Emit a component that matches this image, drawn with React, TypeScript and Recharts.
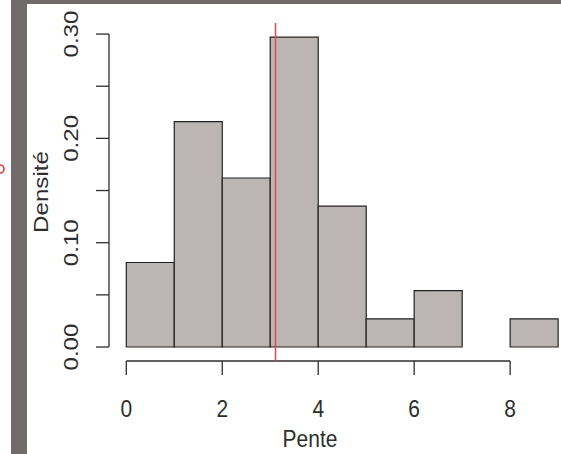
import React from 'react';
import { ComposedChart, Bar, XAxis, YAxis, ReferenceLine, Label } from 'recharts';

const binStarts = [0, 1, 2, 3, 4, 5, 6, 7, 8];
const densities = [0.081, 0.216, 0.162, 0.297, 0.135, 0.027, 0.054, 0, 0.027];
const xTicks = [0, 2, 4, 6, 8];
const yTicks = [0, 0.05, 0.1, 0.15, 0.2, 0.25, 0.3];
const yLabelTicks = [0, 0.1, 0.2, 0.3];
const meanValue = 3.11;
const xLabel = 'Pente';
const yLabel = 'Densité';

const xDomain: [number, number] = [-0.36, 9.06];
const yDomain: [number, number] = [-0.0134, 0.3106];

const data = binStarts.map((s, i) => ({ mid: s + 0.5, density: densities[i] }));

const FONT = '"Liberation Sans", Arial, Helvetica, sans-serif';
const INK = '#2e2e2e';

const XTick = (props: any) => {
  const { x, y, payload } = props;
  return (
    <g>
      <line x1={x} x2={x} y1={y} y2={y + 14} stroke={INK} strokeWidth={1.3} />
      <text
        transform={`translate(${x},${y + 56}) scale(1,1.15)`}
        x={0}
        y={0}
        textAnchor="middle"
        fontSize={21}
        fontFamily={FONT}
        fill={INK}
      >
        {payload.value}
      </text>
    </g>
  );
};

const YTick = (props: any) => {
  const { x, y, payload } = props;
  const v = payload.value;
  const show = yLabelTicks.some((t) => Math.abs(t - v) < 1e-9);
  return (
    <g>
      <line x1={x - 13} x2={x} y1={y} y2={y} stroke={INK} strokeWidth={1.3} />
      {show && (
        <text
          transform={`translate(${x - 31},${y}) rotate(-90) scale(1.15,1)`}
          x={0}
          y={0}
          textAnchor="middle"
          fontSize={21}
          fontFamily={FONT}
          fill={INK}
        >
          {v.toFixed(2)}
        </text>
      )}
    </g>
  );
};

const XLabelContent = (props: any) => {
  const { viewBox } = props;
  const cx = viewBox.x + viewBox.width / 2 - 25;
  const by = viewBox.y + 86;
  return (
    <text
      transform={`translate(${cx},${by}) scale(1,1.12)`}
      x={0}
      y={0}
      textAnchor="middle"
      fontSize={21}
      fontFamily={FONT}
      fill={INK}
    >
      {xLabel}
    </text>
  );
};

const YLabelContent = (props: any) => {
  const { viewBox } = props;
  const cy = viewBox.y + viewBox.height / 2;
  const bx = 48;
  return (
    <text
      transform={`translate(${bx},${cy}) rotate(-90) scale(1.15,1)`}
      x={0}
      y={0}
      textAnchor="middle"
      fontSize={21}
      fontFamily={FONT}
      fill={INK}
    >
      {yLabel}
    </text>
  );
};

export default function App() {
  return (
    <div style={{ position: 'absolute', left: 0, top: 0, width: 561, height: 454, background: '#fff', overflow: 'hidden' }}>
      <div style={{ position: 'absolute', left: 11, top: 0, width: 16, height: 454, background: '#6f6b6a' }} />
      <div style={{ position: 'absolute', left: 11, top: 0, width: 550, height: 4, background: '#6f6b6a' }} />
      <svg style={{ position: 'absolute', left: 0, top: 162 }} width={10} height={20}>
        <path d="M 0 3 A 4 4 0 0 1 4 7 A 4 4 0 0 1 0 11" fill="none" stroke="#e03a3a" strokeWidth={1.6} />
      </svg>
      <div style={{ position: 'absolute', left: 0, top: 0 }}>
        <ComposedChart
          width={561}
          height={454}
          data={data}
          margin={{ top: 23, right: 0, bottom: 0, left: 49 }}
          barCategoryGap={0}
          barGap={0}
        >
          <XAxis
            dataKey="mid"
            type="number"
            domain={xDomain}
            allowDataOverflow
            ticks={xTicks}
            interval={0}
            axisLine={false}
            tickLine={false}
            tickSize={0}
            tickMargin={0}
            height={93}
            tick={<XTick />}
          >
            <Label content={<XLabelContent />} />
          </XAxis>
          <YAxis
            type="number"
            domain={yDomain}
            allowDataOverflow
            ticks={yTicks}
            interval={0}
            axisLine={false}
            tickLine={false}
            tickSize={0}
            tickMargin={0}
            width={60}
            tick={<YTick />}
          >
            <Label content={<YLabelContent />} />
          </YAxis>
          <Bar dataKey="density" fill="#bbb6b3" stroke="#222" strokeWidth={1.2} isAnimationActive={false} />
          <ReferenceLine
            segment={[{ x: xDomain[0], y: 0 }, { x: xDomain[0], y: 0.3 }]}
            stroke={INK}
            strokeWidth={1.3}
            ifOverflow="visible"
          />
          <ReferenceLine
            segment={[{ x: 0, y: yDomain[0] }, { x: 8, y: yDomain[0] }]}
            stroke={INK}
            strokeWidth={1.3}
            ifOverflow="visible"
          />
          <ReferenceLine x={meanValue} stroke="#e0474f" strokeWidth={1.5} ifOverflow="visible" />
        </ComposedChart>
      </div>
    </div>
  );
}
